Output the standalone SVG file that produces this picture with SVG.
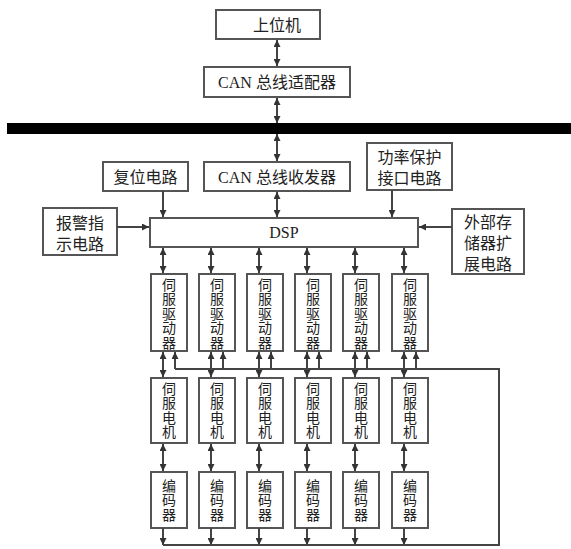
<svg xmlns="http://www.w3.org/2000/svg" width="571" height="549" viewBox="0 0 571 549">
  <defs>
    <marker id="arr" viewBox="0 0 8 8" refX="8" refY="4" markerWidth="7" markerHeight="7" markerUnits="userSpaceOnUse" orient="auto-start-reverse">
      <path d="M0,0 L8,4 L0,8 z" fill="#333"/>
    </marker>
  </defs>
  <style>
    .box { fill: #fff; stroke: #555; stroke-width: 2; }
    .t { font-family: "Liberation Serif", "Noto Sans CJK SC", serif; font-size: 16px; fill: #222; text-anchor: middle; }
    .v { font-family: "Liberation Serif", "Noto Sans CJK SC", serif; font-size: 14px; fill: #222; text-anchor: middle; dominant-baseline: central; }
    .ln { fill: none; stroke: #444; stroke-width: 2; }
    .bi { marker-start: url(#arr); marker-end: url(#arr); }
    .one { marker-end: url(#arr); }
  </style>
  <rect width="571" height="549" fill="#fff"/>

  <!-- CAN bus -->
  <rect id="bus" x="7" y="123" width="564" height="11" fill="#000"/>

  <g id="host">
    <rect class="box" x="216" y="10" width="104" height="29"/>
    <text class="t" x="277" y="31">上位机</text>
  </g>
  <g id="can-adapter">
    <rect class="box" x="204" y="67" width="146" height="30"/>
    <text class="t" x="277" y="88">CAN 总线适配器</text>
  </g>
  <g id="reset">
    <rect class="box" x="103" y="162" width="85" height="29"/>
    <text class="t" x="145.5" y="183">复位电路</text>
  </g>
  <g id="can-transceiver">
    <rect class="box" x="204" y="162" width="146" height="29"/>
    <text class="t" x="277" y="183">CAN 总线收发器</text>
  </g>
  <g id="power-protect">
    <rect class="box" x="367" y="143" width="85" height="47"/>
    <text class="t" x="409.5" y="163">功率保护</text>
    <text class="t" x="409.5" y="184">接口电路</text>
  </g>
  <g id="alarm">
    <rect class="box" x="43" y="208" width="74" height="47"/>
    <text class="t" x="80" y="229">报警指</text>
    <text class="t" x="80" y="250">示电路</text>
  </g>
  <g id="dsp">
    <rect class="box" x="150" y="218" width="268" height="29"/>
    <text class="t" x="284" y="238">DSP</text>
  </g>
  <g id="ext-memory">
    <rect class="box" x="452" y="209" width="72" height="65"/>
    <text class="t" x="488" y="228">外部存</text>
    <text class="t" x="488" y="249">储器扩</text>
    <text class="t" x="488" y="270">展电路</text>
  </g>

  <!-- servo channels -->
  <g id="driver1"><rect class="box" x="151" y="274" width="36" height="77"/>
    <text class="v" x="169" y="285">伺</text><text class="v" x="169" y="299.5">服</text><text class="v" x="169" y="314">驱</text><text class="v" x="169" y="328.5">动</text><text class="v" x="169" y="343">器</text></g>
  <g id="driver2"><rect class="box" x="199" y="274" width="36" height="77"/>
    <text class="v" x="217" y="285">伺</text><text class="v" x="217" y="299.5">服</text><text class="v" x="217" y="314">驱</text><text class="v" x="217" y="328.5">动</text><text class="v" x="217" y="343">器</text></g>
  <g id="driver3"><rect class="box" x="247" y="274" width="36" height="77"/>
    <text class="v" x="265" y="285">伺</text><text class="v" x="265" y="299.5">服</text><text class="v" x="265" y="314">驱</text><text class="v" x="265" y="328.5">动</text><text class="v" x="265" y="343">器</text></g>
  <g id="driver4"><rect class="box" x="295" y="274" width="36" height="77"/>
    <text class="v" x="313" y="285">伺</text><text class="v" x="313" y="299.5">服</text><text class="v" x="313" y="314">驱</text><text class="v" x="313" y="328.5">动</text><text class="v" x="313" y="343">器</text></g>
  <g id="driver5"><rect class="box" x="343" y="274" width="36" height="77"/>
    <text class="v" x="361" y="285">伺</text><text class="v" x="361" y="299.5">服</text><text class="v" x="361" y="314">驱</text><text class="v" x="361" y="328.5">动</text><text class="v" x="361" y="343">器</text></g>
  <g id="driver6"><rect class="box" x="392" y="274" width="36" height="77"/>
    <text class="v" x="410" y="285">伺</text><text class="v" x="410" y="299.5">服</text><text class="v" x="410" y="314">驱</text><text class="v" x="410" y="328.5">动</text><text class="v" x="410" y="343">器</text></g>

  <g id="motor1"><rect class="box" x="151" y="378" width="36" height="65"/>
    <text class="v" x="169" y="389">伺</text><text class="v" x="169" y="403.5">服</text><text class="v" x="169" y="418">电</text><text class="v" x="169" y="432.5">机</text></g>
  <g id="motor2"><rect class="box" x="199" y="378" width="36" height="65"/>
    <text class="v" x="217" y="389">伺</text><text class="v" x="217" y="403.5">服</text><text class="v" x="217" y="418">电</text><text class="v" x="217" y="432.5">机</text></g>
  <g id="motor3"><rect class="box" x="247" y="378" width="36" height="65"/>
    <text class="v" x="265" y="389">伺</text><text class="v" x="265" y="403.5">服</text><text class="v" x="265" y="418">电</text><text class="v" x="265" y="432.5">机</text></g>
  <g id="motor4"><rect class="box" x="295" y="378" width="36" height="65"/>
    <text class="v" x="313" y="389">伺</text><text class="v" x="313" y="403.5">服</text><text class="v" x="313" y="418">电</text><text class="v" x="313" y="432.5">机</text></g>
  <g id="motor5"><rect class="box" x="343" y="378" width="36" height="65"/>
    <text class="v" x="361" y="389">伺</text><text class="v" x="361" y="403.5">服</text><text class="v" x="361" y="418">电</text><text class="v" x="361" y="432.5">机</text></g>
  <g id="motor6"><rect class="box" x="392" y="378" width="36" height="65"/>
    <text class="v" x="410" y="389">伺</text><text class="v" x="410" y="403.5">服</text><text class="v" x="410" y="418">电</text><text class="v" x="410" y="432.5">机</text></g>

  <g id="encoder1"><rect class="box" x="151" y="472" width="36" height="56"/>
    <text class="v" x="169" y="486">编</text><text class="v" x="169" y="500.5">码</text><text class="v" x="169" y="515">器</text></g>
  <g id="encoder2"><rect class="box" x="199" y="472" width="36" height="56"/>
    <text class="v" x="217" y="486">编</text><text class="v" x="217" y="500.5">码</text><text class="v" x="217" y="515">器</text></g>
  <g id="encoder3"><rect class="box" x="247" y="472" width="36" height="56"/>
    <text class="v" x="265" y="486">编</text><text class="v" x="265" y="500.5">码</text><text class="v" x="265" y="515">器</text></g>
  <g id="encoder4"><rect class="box" x="295" y="472" width="36" height="56"/>
    <text class="v" x="313" y="486">编</text><text class="v" x="313" y="500.5">码</text><text class="v" x="313" y="515">器</text></g>
  <g id="encoder5"><rect class="box" x="343" y="472" width="36" height="56"/>
    <text class="v" x="361" y="486">编</text><text class="v" x="361" y="500.5">码</text><text class="v" x="361" y="515">器</text></g>
  <g id="encoder6"><rect class="box" x="392" y="472" width="36" height="56"/>
    <text class="v" x="410" y="486">编</text><text class="v" x="410" y="500.5">码</text><text class="v" x="410" y="515">器</text></g>

  <g id="connectors">
    <!-- host side -->
    <line class="ln bi" x1="277" y1="40" x2="277" y2="66"/>
    <line class="ln bi" x1="277" y1="98" x2="277" y2="123"/>
    <line class="ln bi" x1="277" y1="134" x2="277" y2="161"/>
    <line class="ln bi" x1="277" y1="192" x2="277" y2="217"/>
    <!-- peripherals into DSP -->
    <line class="ln one" x1="163" y1="191" x2="163" y2="217"/>
    <line class="ln one" x1="392" y1="190" x2="392" y2="217"/>
    <line class="ln one" x1="117" y1="227" x2="149" y2="227"/>
    <line class="ln one" x1="452" y1="227" x2="419" y2="227"/>
    <!-- DSP to drivers -->
    <line class="ln bi" x1="163" y1="248" x2="163" y2="273"/>
    <line class="ln bi" x1="211" y1="248" x2="211" y2="273"/>
    <line class="ln bi" x1="259" y1="248" x2="259" y2="273"/>
    <line class="ln bi" x1="307" y1="248" x2="307" y2="273"/>
    <line class="ln bi" x1="355" y1="248" x2="355" y2="273"/>
    <line class="ln bi" x1="404" y1="248" x2="404" y2="273"/>
    <!-- drivers to motors -->
    <line class="ln bi" x1="163" y1="352" x2="163" y2="377"/>
    <line class="ln bi" x1="211" y1="352" x2="211" y2="377"/>
    <line class="ln bi" x1="259" y1="352" x2="259" y2="377"/>
    <line class="ln bi" x1="307" y1="352" x2="307" y2="377"/>
    <line class="ln bi" x1="355" y1="352" x2="355" y2="377"/>
    <line class="ln bi" x1="404" y1="352" x2="404" y2="377"/>
    <!-- motors to encoders -->
    <line class="ln bi" x1="163" y1="444" x2="163" y2="471"/>
    <line class="ln bi" x1="211" y1="444" x2="211" y2="471"/>
    <line class="ln bi" x1="259" y1="444" x2="259" y2="471"/>
    <line class="ln bi" x1="307" y1="444" x2="307" y2="471"/>
    <line class="ln bi" x1="355" y1="444" x2="355" y2="471"/>
    <line class="ln bi" x1="404" y1="444" x2="404" y2="471"/>
    <!-- encoders down to feedback line -->
    <line class="ln one" x1="163" y1="528" x2="163" y2="545"/>
    <line class="ln one" x1="211" y1="528" x2="211" y2="545"/>
    <line class="ln one" x1="259" y1="528" x2="259" y2="545"/>
    <line class="ln one" x1="307" y1="528" x2="307" y2="545"/>
    <line class="ln one" x1="355" y1="528" x2="355" y2="545"/>
    <line class="ln one" x1="404" y1="528" x2="404" y2="545"/>
    <!-- feedback loop -->
    <polyline class="ln" points="163,545 499,545 499,369 175,369"/>
    <line class="ln one" x1="175" y1="369" x2="175" y2="352"/>
    <line class="ln one" x1="223" y1="369" x2="223" y2="352"/>
    <line class="ln one" x1="271" y1="369" x2="271" y2="352"/>
    <line class="ln one" x1="319" y1="369" x2="319" y2="352"/>
    <line class="ln one" x1="367" y1="369" x2="367" y2="352"/>
    <line class="ln one" x1="416" y1="369" x2="416" y2="352"/>
  </g>
</svg>
